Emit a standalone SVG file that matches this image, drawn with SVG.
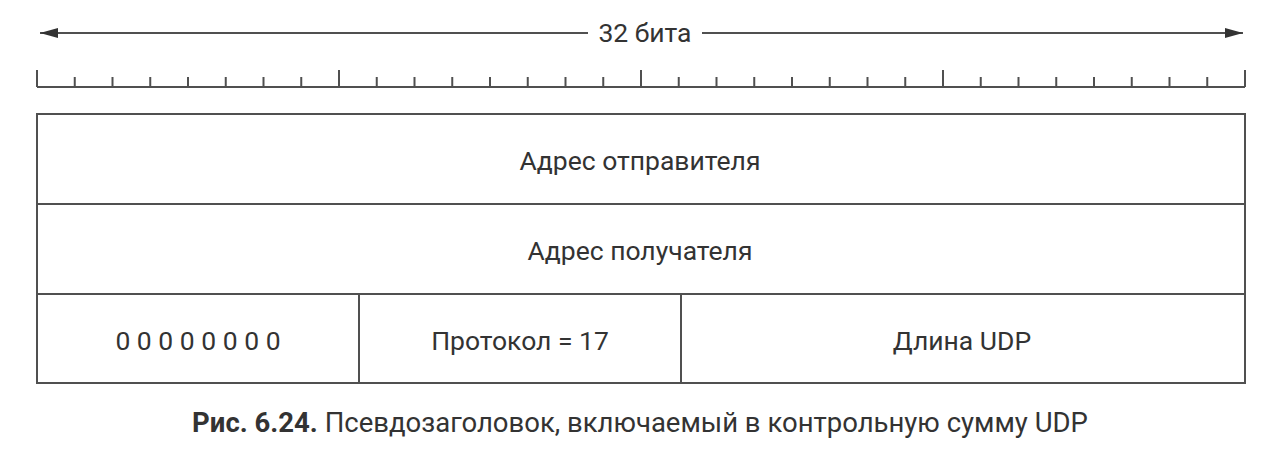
<svg xmlns="http://www.w3.org/2000/svg" width="1280" height="458" viewBox="0 0 1280 458">
<defs>
<style>
.ln{stroke:#505050;stroke-width:2;fill:none}
.t{font-family:Roboto,"Liberation Sans",sans-serif;font-size:26.5px;fill:#333;text-anchor:middle}
.c{font-size:27.5px}
.b{font-weight:bold}
</style>
<marker id="ah" markerWidth="18" markerHeight="10" refX="18" refY="5" orient="auto-start-reverse" markerUnits="userSpaceOnUse">
<path d="M0,0 L18,5 L0,10 Z" fill="#333"/>
</marker>
</defs>
<rect width="1280" height="458" fill="#fff"/>
<g id="connectors">
<line class="ln" x1="40" y1="33" x2="588" y2="33" marker-start="url(#ah)"/>
<line class="ln" x1="702" y1="33" x2="1243" y2="33" marker-end="url(#ah)"/>
</g>
<g id="width-label"><text class="t" x="645" y="42">32 бита</text></g>
<g id="ruler">
<path class="ln" d="M37,87 H1245 M37,70 V87 M339,70 V87 M641,70 V87 M943,70 V87 M1245,70 V87
M74.75,77V87 M112.5,77V87 M150.25,77V87 M188,77V87 M225.75,77V87 M263.5,77V87 M301.25,77V87
M376.75,77V87 M414.5,77V87 M452.25,77V87 M490,77V87 M527.75,77V87 M565.5,77V87 M603.25,77V87
M678.75,77V87 M716.5,77V87 M754.25,77V87 M792,77V87 M829.75,77V87 M867.5,77V87 M905.25,77V87
M980.75,77V87 M1018.5,77V87 M1056.25,77V87 M1094,77V87 M1131.75,77V87 M1169.5,77V87 M1207.25,77V87"/>
</g>
<g id="src">
<rect class="ln" x="37" y="114" width="1208" height="90"/>
<text class="t" x="640" y="170">Адрес отправителя</text>
</g>
<g id="dst">
<rect class="ln" x="37" y="204" width="1208" height="90"/>
<text class="t" x="640" y="260">Адрес получателя</text>
</g>
<g id="zeros">
<rect class="ln" x="37" y="294" width="322" height="89"/>
<text class="t" x="198" y="350">0 0 0 0 0 0 0 0</text>
</g>
<g id="proto">
<rect class="ln" x="359" y="294" width="322" height="89"/>
<text class="t" x="520" y="350">Протокол = 17</text>
</g>
<g id="len">
<rect class="ln" x="681" y="294" width="564" height="89"/>
<text class="t" x="962" y="350">Длина UDP</text>
</g>
<g id="caption">
<text class="t c" x="640" y="432"><tspan class="b">Рис. 6.24.</tspan> Псевдозаголовок, включаемый в контрольную сумму UDP</text>
</g>
</svg>
